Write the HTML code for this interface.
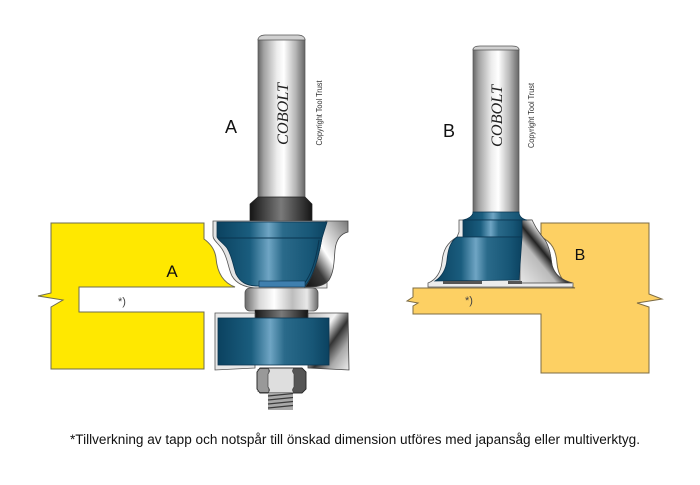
<!DOCTYPE html>
<html><head><meta charset="utf-8"><style>html,body{margin:0;padding:0;background:#fff}svg{display:block}</style></head>
<body>
<svg xmlns="http://www.w3.org/2000/svg" width="700" height="485" viewBox="0 0 700 485">
<defs>
<linearGradient id="sh" x1="0" x2="1" y1="0" y2="0">
<stop offset="0" stop-color="#666"/>
<stop offset="0.12" stop-color="#a0a0a0"/>
<stop offset="0.4" stop-color="#ececec"/>
<stop offset="0.55" stop-color="#ffffff"/>
<stop offset="0.8" stop-color="#b5b5b5"/>
<stop offset="1" stop-color="#666"/>
</linearGradient>
<linearGradient id="bl" x1="0" x2="1">
<stop offset="0" stop-color="#0b4260"/>
<stop offset="0.3" stop-color="#1a5d7e"/>
<stop offset="0.47" stop-color="#6fa5c4"/>
<stop offset="0.6" stop-color="#2a6a8a"/>
<stop offset="0.85" stop-color="#175676"/>
<stop offset="1" stop-color="#0b4260"/>
</linearGradient>
<linearGradient id="dk" x1="0" x2="1">
<stop offset="0" stop-color="#151515"/>
<stop offset="0.5" stop-color="#7a7a7a"/>
<stop offset="1" stop-color="#151515"/>
</linearGradient>
<linearGradient id="chA" x1="0" y1="1" x2="1" y2="0">
<stop offset="0" stop-color="#111"/>
<stop offset="0.28" stop-color="#3a3a3a"/>
<stop offset="0.5" stop-color="#ffffff"/>
<stop offset="0.75" stop-color="#c0c0c0"/>
<stop offset="1" stop-color="#777"/>
</linearGradient>
<linearGradient id="chB" x1="0" y1="1" x2="1" y2="0">
<stop offset="0" stop-color="#e8e8e8"/>
<stop offset="0.35" stop-color="#bbb"/>
<stop offset="0.47" stop-color="#222"/>
<stop offset="0.62" stop-color="#ffffff"/>
<stop offset="1" stop-color="#aaa"/>
</linearGradient>
<linearGradient id="chL" x1="0" y1="0" x2="1" y2="1">
<stop offset="0" stop-color="#bbb"/>
<stop offset="0.35" stop-color="#f4f4f4"/>
<stop offset="0.55" stop-color="#333"/>
<stop offset="0.75" stop-color="#aaa"/>
<stop offset="1" stop-color="#eee"/>
</linearGradient>
<linearGradient id="br" x1="0" x2="1">
<stop offset="0" stop-color="#6a6a6a"/>
<stop offset="0.2" stop-color="#d8d8d8"/>
<stop offset="0.4" stop-color="#ffffff"/>
<stop offset="0.65" stop-color="#bdbdbd"/>
<stop offset="0.85" stop-color="#e8e8e8"/>
<stop offset="1" stop-color="#6a6a6a"/>
</linearGradient>
</defs>

<!-- ===== Workpiece A (yellow) ===== -->
<path d="M51,223 L204,223 L204,239 C211,244 215,250 216,258 C217,270 221,282 235,287 L79,287 L79,312 L204,312 L204,369 L51,369 L51,307 L63,300 L38,296 L51,293 Z" fill="#ffe800" stroke="#6e6c50" stroke-width="1"/>
<text x="172" y="277" font-family="Liberation Sans, sans-serif" font-size="17" text-anchor="middle" fill="#111">A</text>
<text x="118" y="305" font-family="Liberation Sans, sans-serif" font-size="11" fill="#444">*)</text>

<!-- ===== Cutter A ===== -->
<rect x="258" y="39" width="47" height="162" fill="url(#sh)" stroke="#555" stroke-width="0.7"/>
<path d="M258,40 C258,37 261,35 265,35 L298,35 C302,35 305,37 305,40 Z" fill="#d0d0d0" stroke="#555" stroke-width="0.7"/>
<path d="M258,197 L305,197 L312,204 L312,223 L250,223 L250,204 Z" fill="url(#dk)" stroke="#222" stroke-width="0.7"/>
<path d="M213,221 L327,221 L327,288 L255,288 C243,287 236,283 232,276 C228,268 228,258 222,249 C218,243 213,240 213,236 Z" fill="#e4e4e4" stroke="#555" stroke-width="0.8"/>
<path d="M326,221 L348,221 L348,232 C340,234 336,240 335,250 C334,262 334,272 329,280 C325,285 318,287 310,287 L305,287 C312,278 318,260 322,238 Z" fill="url(#chA)" stroke="#444" stroke-width="0.8"/>
<path d="M217,222 L327,222 L322,238 C318,260 313,277 305,286 L258,286 C246,286 240,282 236,274 C233,265 232,256 227,248 C223,243 218,240 217,237 Z" fill="url(#bl)" stroke="#0a3550" stroke-width="0.8"/>
<path d="M218,238 L322,238" stroke="#0a3550" stroke-width="0.9"/>
<path d="M319,240 C316,260 311,276 303,285" stroke="#0a3550" stroke-width="1" fill="none"/>
<rect x="259" y="281" width="46" height="6" fill="#3f7fae" stroke="#0a3550" stroke-width="0.6"/>
<rect x="245" y="288" width="73" height="23" rx="5" fill="url(#br)" stroke="#555" stroke-width="0.8"/>
<rect x="255" y="310" width="53" height="9" fill="url(#dk)" stroke="#222" stroke-width="0.5"/>
<path d="M215,313 L255,313 L255,368 L215,370 Z" fill="#e8e8e8" stroke="#555" stroke-width="0.8"/>
<path d="M308,313 L348,313 L349,370 L308,368 Z" fill="url(#chL)" stroke="#444" stroke-width="0.8"/>
<rect x="218" y="318" width="111" height="47" fill="url(#bl)" stroke="#0a3550" stroke-width="0.8"/>
<path d="M260,368 L302,368 L306,372 L306,389 L302,393 L260,393 L257,389 L257,372 Z" fill="#555" stroke="#2a2a2a" stroke-width="0.8"/>
<rect x="257.5" y="369" width="11" height="23" fill="#999"/>
<path d="M268,368 L294,368 C292,371 292,371 294,374 L294,387 C292,390 292,390 294,393 L268,393 C270,390 270,390 268,387 L268,374 C270,371 270,371 268,368 Z" fill="#dedede" stroke="#444" stroke-width="0.7"/>
<path d="M260,368 L302,368 L306,372 L306,389 L302,393 L260,393 L257,389 L257,372 Z" fill="none" stroke="#2a2a2a" stroke-width="0.8"/>
<rect x="268" y="393" width="25" height="17" fill="#a8a8a8"/>
<g stroke="#3a3a3a" stroke-width="1.3">
<line x1="268" y1="396" x2="293" y2="393.5"/>
<line x1="268" y1="400" x2="293" y2="397.5"/>
<line x1="268" y1="404" x2="293" y2="401.5"/>
<line x1="268" y1="408" x2="293" y2="405.5"/>
</g>

<text transform="translate(288,114) rotate(-90)" font-family="Liberation Serif, serif" font-style="italic" font-size="16" text-anchor="middle" textLength="62" lengthAdjust="spacingAndGlyphs" fill="#222">COBOLT</text>
<text transform="translate(322,113) rotate(-90)" font-family="Liberation Sans, sans-serif" font-size="8" text-anchor="middle" textLength="65" lengthAdjust="spacingAndGlyphs" fill="#333">Copyright Tool Trust</text>
<text x="231" y="133" font-family="Liberation Sans, sans-serif" font-size="18" text-anchor="middle" fill="#111">A</text>

<!-- ===== Workpiece B (orange) ===== -->
<path d="M541,223 L649,223 L649,294 L662,299 L637,303 L649,307 L649,373 L541,373 L541,314 L413,314 L413,306 L418,303 L407,301 L413,297 L413,288 L575,288 C563,284 558,275 557,263 C556,250 552,242 541,237 Z" fill="#fdd063" stroke="#7d6c45" stroke-width="1"/>
<text x="580" y="260" font-family="Liberation Sans, sans-serif" font-size="16" text-anchor="middle" fill="#111">B</text>
<text x="465" y="304" font-family="Liberation Sans, sans-serif" font-size="11" fill="#444">*)</text>

<!-- ===== Cutter B ===== -->
<rect x="473" y="49" width="46" height="165" fill="url(#sh)" stroke="#555" stroke-width="0.7"/>
<path d="M473,50 C473,47 476,46 480,46 L512,46 C516,46 519,47 519,50 Z" fill="#d0d0d0" stroke="#555" stroke-width="0.7"/>
<path d="M459,220 L532,220 C535,226 538,232 545,240 C550,248 551,258 552,265 C554,273 560,280 573,283 L573,287 L428,287 L428,283 C436,280 441,272 442,262 C443,250 447,243 457,237 L459,232 Z" fill="#ececec" stroke="#555" stroke-width="0.8"/>
<path d="M520,237 L522,220 L532,220 C535,226 538,232 545,240 C550,248 551,258 552,265 C554,273 560,280 572,283 L520,283 Z" fill="url(#chB)" stroke="#444" stroke-width="0.7"/>
<path d="M473,212 L519,212 C519,216 522,219 527,220 L463,220 C468,219 473,216 473,212 Z" fill="url(#bl)" stroke="#0a3550" stroke-width="0.7"/>
<rect x="463" y="220" width="59" height="17" fill="url(#bl)" stroke="#0a3550" stroke-width="0.8"/>
<path d="M457,237 L522,237 L519,280 L435,281 C441,277 446,270 447,260 C448,250 450,242 457,237 Z" fill="url(#bl)" stroke="#0a3550" stroke-width="0.8"/>
<rect x="443" y="281" width="39" height="3" fill="#555"/>
<rect x="508" y="281" width="14" height="3" fill="#555"/>

<text transform="translate(502,116) rotate(-90)" font-family="Liberation Serif, serif" font-style="italic" font-size="16" text-anchor="middle" textLength="62" lengthAdjust="spacingAndGlyphs" fill="#222">COBOLT</text>
<text transform="translate(534,115.5) rotate(-90)" font-family="Liberation Sans, sans-serif" font-size="8" text-anchor="middle" textLength="65" lengthAdjust="spacingAndGlyphs" fill="#333">Copyright Tool Trust</text>
<text x="449" y="137" font-family="Liberation Sans, sans-serif" font-size="18" text-anchor="middle" fill="#111">B</text>

<text x="70" y="444" font-family="Liberation Sans, sans-serif" font-size="13.5" textLength="570" lengthAdjust="spacingAndGlyphs" fill="#111">*Tillverkning av tapp och notspår till önskad dimension utföres med japansåg eller multiverktyg.</text>
</svg>
</body></html>
